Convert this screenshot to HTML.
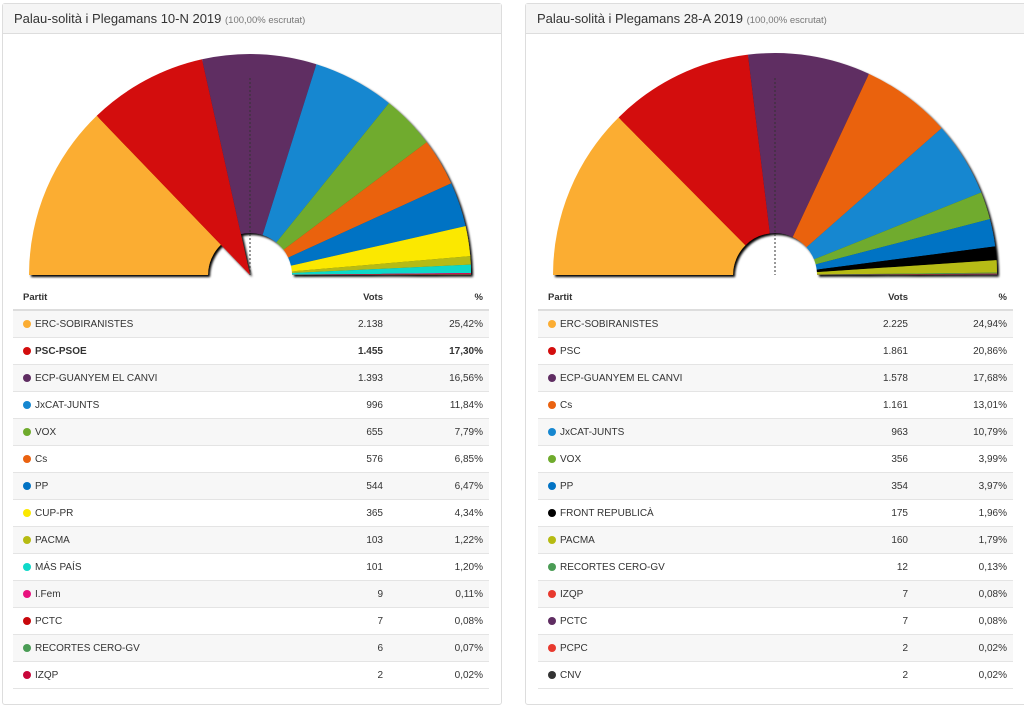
<!DOCTYPE html>
<html><head><meta charset="utf-8"><style>
body{margin:0;width:1024px;height:685px;overflow:hidden;background:#fff;font-family:"Liberation Sans",Arial,sans-serif;color:#333}
.panel{position:absolute;top:3px;height:700px;border:1px solid #ddd;border-radius:3px;background:#fff}
.hd{height:29px;background:#f5f5f5;border-bottom:1px solid #ddd;font-size:13px;line-height:30px;padding-left:11px;color:#333}
.hd small{font-size:9.5px;color:#777}
svg{position:absolute;left:0;top:0}
table{position:absolute;border-collapse:collapse;font-size:10px;table-layout:fixed}
td,th{height:26px;padding:0;border-bottom:1px solid #e4e4e4}
th{height:24px;font-weight:bold;border-bottom:2px solid #ddd;font-size:9.5px}
tr:nth-child(even) td{background:#f7f7f7}
.n{text-align:left;padding-left:10px;width:290px}
.v{text-align:right;width:70px}
.p{text-align:right;padding-right:6px}
.d{display:inline-block;width:8px;height:8px;border-radius:50%;margin-right:4px;vertical-align:-1px}
b{font-weight:bold}
</style></head><body>
<div class="panel" style="left:2px;width:498px"><div class="hd">Palau-solità i Plegamans 10-N 2019 <small>(100,00% escrutat)</small></div></div>
<div class="panel" style="left:525px;width:505px"><div class="hd">Palau-solità i Plegamans 28-A 2019 <small>(100,00% escrutat)</small></div></div>
<svg id="s" width="1024" height="685"></svg>
<table id="t1" style="left:13px;top:285px;width:476px"></table>
<table id="t2" style="left:538px;top:285px;width:475px"></table>
<script>
var L=[["ERC-SOBIRANISTES","#fbad33","2.138","25,42%"],["PSC-PSOE","#d30d0d","1.455","17,30%"],["ECP-GUANYEM EL CANVI","#5f2d62","1.393","16,56%"],["JxCAT-JUNTS","#1687d0","996","11,84%"],["VOX","#6fab2d","655","7,79%"],["Cs","#ea6210","576","6,85%"],["PP","#0273c4","544","6,47%"],["CUP-PR","#fbe800","365","4,34%"],["PACMA","#b6bb12","103","1,22%"],["MÁS PAÍS","#0fd9c9","101","1,20%"],["I.Fem","#e8127e","9","0,11%"],["PCTC","#c8070c","7","0,08%"],["RECORTES CERO-GV","#4a9c55","6","0,07%"],["IZQP","#c8073a","2","0,02%"]];
var R=[["ERC-SOBIRANISTES","#fbad33","2.225","24,94%"],["PSC","#d30d0d","1.861","20,86%"],["ECP-GUANYEM EL CANVI","#5f2d62","1.578","17,68%"],["Cs","#ea6210","1.161","13,01%"],["JxCAT-JUNTS","#1687d0","963","10,79%"],["VOX","#6fab2d","356","3,99%"],["PP","#0273c4","354","3,97%"],["FRONT REPUBLICÀ","#000000","175","1,96%"],["PACMA","#b6bb12","160","1,79%"],["RECORTES CERO-GV","#4a9c55","12","0,13%"],["IZQP","#e8392e","7","0,08%"],["PCTC","#5f2d62","7","0,08%"],["PCPC","#e8392e","2","0,02%"],["CNV","#333333","2","0,02%"]];
var s='<defs><filter id="sh" x="-10%" y="-10%" width="130%" height="130%"><feDropShadow dx="2" dy="2" stdDeviation="1" flood-color="#000" flood-opacity="1"/></filter></defs>';
function pie(cx,cy,ro,ri,data,sel){
 var tot=0;data.forEach(function(d){tot+=parseFloat(d[3].replace(',','.'));});
 var a=Math.PI,g='<g filter="url(#sh)">';
 data.forEach(function(d,i){
  var p=parseFloat(d[3].replace(',','.'))/tot*Math.PI;var b=a-p;
  var r2=(i===sel)?0:ri;
  var x1=cx+ro*Math.cos(a),y1=cy-ro*Math.sin(a),x2=cx+ro*Math.cos(b),y2=cy-ro*Math.sin(b);
  var path='M'+(cx+r2*Math.cos(a))+','+(cy-r2*Math.sin(a))+'L'+x1+','+y1+'A'+ro+','+ro+' 0 0 1 '+x2+','+y2+'L'+(cx+r2*Math.cos(b))+','+(cy-r2*Math.sin(b));
  if(r2>0)path+='A'+r2+','+r2+' 0 0 0 '+(cx+r2*Math.cos(a))+','+(cy-r2*Math.sin(a));
  g+='<path d="'+path+'Z" fill="'+d[1]+'"/>';a=b;});
 g+='</g><line x1="'+cx+'" y1="'+(cy-197)+'" x2="'+cx+'" y2="'+cy+'" stroke="#333" stroke-width="1" stroke-dasharray="2,2"/>';
 return g;}
s+=pie(250,275,221,42,L,1)+pie(775,275,222,42,R,-1);
document.getElementById('s').innerHTML=s;
function tb(id,data,sel){
 var h='<tr><th class="n">Partit</th><th class="v">Vots</th><th class="p">%</th></tr>';
 data.forEach(function(d,i){var o=i===sel?'<b>':'',c=i===sel?'</b>':'';
  h+='<tr><td class="n"><span class="d" style="background:'+d[1]+'"></span>'+o+d[0]+c+'</td><td class="v">'+o+d[2]+c+'</td><td class="p">'+o+d[3]+c+'</td></tr>';});
 document.getElementById(id).innerHTML=h;}
tb('t1',L,1);tb('t2',R,-1);
</script>
</body></html>
